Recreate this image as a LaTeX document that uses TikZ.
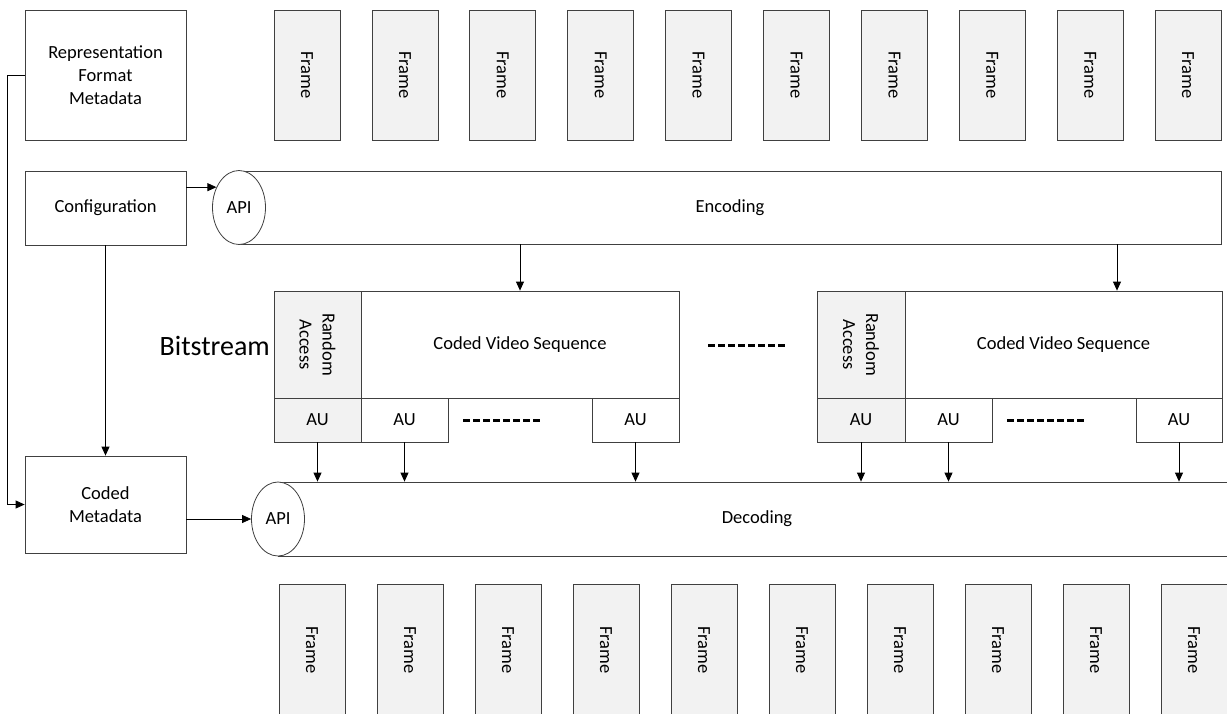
\documentclass[tikz,border=0pt]{standalone}
\usepackage{fontspec}
\setmainfont{Carlito}
\usetikzlibrary{positioning,shapes.geometric,arrows.meta}
\definecolor{cinza}{HTML}{F2F2F2}
\definecolor{linha}{HTML}{404040}

\begin{document}
\begin{tikzpicture}[x=1pt, y=-1pt, >={Triangle[length=9pt,width=8pt]},
		caixa/.style={draw=linha, line width=0.8pt, inner sep=2pt, align=center, font=\fontsize{18.5}{23}\selectfont},
		quadro/.style={caixa, fill=cinza, rotate=-90, minimum height=66pt},
		api/.style={caixa, ellipse, fill=white, minimum width=53pt, minimum height=74pt, inner sep=0pt},
		seta/.style={->, draw=black, line width=0.8pt},
		tracos/.style={line width=3pt, dash pattern=on 6.5pt off 3.5pt}]
			\useasboundingbox (0,0) rectangle (1227,713);
			\clip (0,0) rectangle (1227,713);
			% metadados e configuracao
			\node[caixa, minimum width=161pt, minimum height=130pt] (rep) at (105.5,75) {Representation\\Format\\Metadata};
			\node[caixa, minimum width=161pt, minimum height=74pt] (conf) at (105.5,208) {Configuration};
			\node[caixa, minimum width=161pt, minimum height=97pt] (cm) at (105.5,504.5) {Coded\\Metadata};
			% quadros
			\foreach \i in {0,...,9} {
					\node[quadro, minimum width=130pt] (ft\i) at (307+97.9*\i, 75) {Frame};
					\node[quadro, minimum width=132pt] (fb\i) at (312+98*\i, 650) {Frame};
				}
			% codificacao e decodificacao
			\node[caixa, minimum width=982pt, minimum height=73pt] (enc) at (730,207.5) {Encoding};
			\node[api] (apienc) at (239,207.5) {API};
			\node[caixa, minimum width=958pt, minimum height=74pt] (dec) at (757,519) {Decoding};
			\node[api] (apidec) at (278,519) {API};
			% bitstream
			\node[anchor=east, font=\fontsize{28}{32}\selectfont, inner sep=4pt] (bs) at (274,346) {Bitstream};
			\node[caixa, fill=cinza, rotate=-90, minimum width=107pt, minimum height=87pt] (ra1) at (317.5,344.5) {Random\\Access};
			\node[caixa, minimum width=318pt, minimum height=107pt] (cvs1) at (520,344.5) {Coded Video Sequence};
			\node[caixa, fill=cinza, rotate=-90, minimum width=107pt, minimum height=88pt] (ra2) at (861,344.5) {Random\\Access};
			\node[caixa, minimum width=317pt, minimum height=107pt] (cvs2) at (1063.5,344.5) {Coded Video Sequence};
			\node[caixa, fill=cinza, minimum width=87pt, minimum height=44pt] (au1) at (317.5,420) {AU};
			\node[caixa, minimum width=87pt, minimum height=44pt] (au2) at (404.5,420) {AU};
			\node[caixa, minimum width=87pt, minimum height=44pt] (au3) at (635.5,420) {AU};
			\node[caixa, fill=cinza, minimum width=88pt, minimum height=44pt] (au4) at (861,420) {AU};
			\node[caixa, minimum width=87pt, minimum height=44pt] (au5) at (948.5,420) {AU};
			\node[caixa, minimum width=86pt, minimum height=44pt] (au6) at (1179,420) {AU};
			\draw[tracos] (708,345) -- (788,345);
			\draw[tracos] (463,420) -- (543,420);
			\draw[tracos] (1007,420) -- (1087,420);
			% setas
			\draw[seta] (apienc.138 -| conf.east) -- (apienc.138);
			\draw[seta] (conf) -- (cm);
			\draw[seta] (rep.west) -- ++(-17,0) |- (cm.west);
			\draw[seta] (apidec.west -| cm.east) -- (apidec.west);
			\draw[seta] (enc.south -| cvs1.north) -- (cvs1.north);
			\draw[seta] ([xshift=53.5pt]cvs2.north |- enc.south) -- ([xshift=53.5pt]cvs2.north);
			\foreach \a in {au1,au2,au3,au4,au5,au6} {
					\draw[seta] (\a.south) -- (\a.south |- dec.north);
				}
		\end{tikzpicture}
\end{document}
